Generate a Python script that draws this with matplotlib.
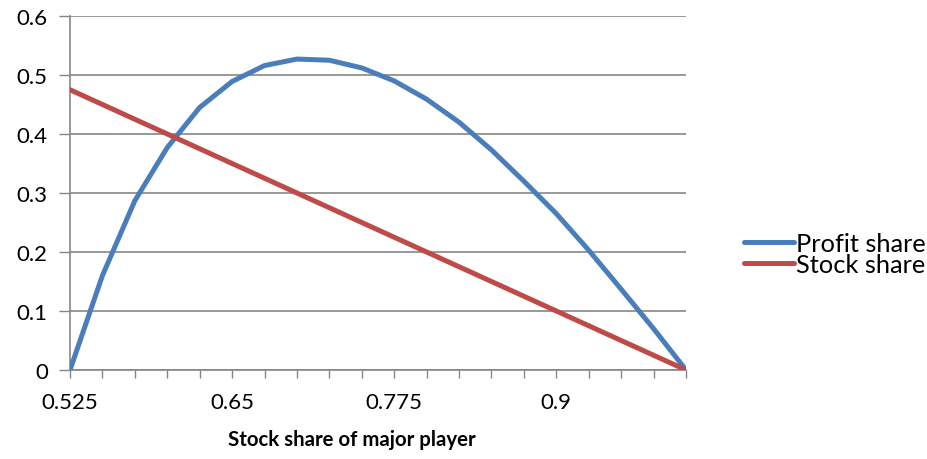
import matplotlib
matplotlib.use('Agg')
import matplotlib.pyplot as plt
from matplotlib.ticker import FixedLocator

# stock share of the major player (category axis)
stock = [0.525, 0.55, 0.575, 0.6, 0.625, 0.65, 0.675, 0.7, 0.725, 0.75,
         0.775, 0.8, 0.825, 0.85, 0.875, 0.9, 0.925, 0.95, 0.975, 1.0]
profit_share = [0.0, 0.160, 0.287, 0.377, 0.445, 0.489, 0.516, 0.527, 0.525, 0.512,
                0.490, 0.459, 0.420, 0.373, 0.320, 0.265, 0.203, 0.137, 0.070, 0.0]
stock_share = [0.475, 0.45, 0.425, 0.4, 0.375, 0.35, 0.325, 0.3, 0.275, 0.25,
               0.225, 0.2, 0.175, 0.15, 0.125, 0.1, 0.075, 0.05, 0.025, 0.0]
xlabels = ['0.525', '0.65', '0.775', '0.9']
ylabels = ['0', '0.1', '0.2', '0.3', '0.4', '0.5', '0.6']

plt.rcParams['font.family'] = ['Lato', 'DejaVu Sans']
grey = '#868686'

fig = plt.figure(figsize=(9.28, 4.6), dpi=100)
ax = fig.add_axes([70/928, 1-371/460, 616/928, 354/460])

ax.plot(stock, profit_share, color='#4A7EBB', lw=3.6, label='Profit share',
        solid_capstyle='round', solid_joinstyle='round', zorder=3)
ax.plot(stock, stock_share, color='#BE4B48', lw=3.6, label='Stock share',
        solid_capstyle='round', solid_joinstyle='round', zorder=3)

ax.set_xlim(stock[0], stock[-1])
ax.set_ylim(0, 0.6)

ax.xaxis.set_major_locator(FixedLocator([float(v) for v in xlabels]))
ax.set_xticklabels(xlabels)
ax.xaxis.set_minor_locator(FixedLocator(stock))
ax.set_yticks([float(v) for v in ylabels])
ax.set_yticklabels(ylabels)

ax.tick_params(axis='x', which='both', direction='out', length=6, width=1,
               color=grey, labelsize=16, pad=10)
ax.tick_params(axis='y', direction='out', length=8, width=1, color=grey,
               labelsize=16, pad=8)

ax.grid(axis='y', color=grey, lw=1.2)
ax.set_axisbelow(True)
for side in ['top', 'right']:
    ax.spines[side].set_visible(False)
for side in ['left', 'bottom']:
    ax.spines[side].set_color(grey)
    ax.spines[side].set_linewidth(1.2)

# axis title sits a bit left of the plot-area centre
ax.set_xlabel('Stock share of major player', fontsize=14.7, fontweight='bold')
ax.xaxis.set_label_coords((352 - 70) / 616, -(440 - 371) / 354)
ax.xaxis.label.set_va('center')

fig.legend(loc='center left', bbox_to_anchor=(744/928, 1-255/460), frameon=False,
           fontsize=18.3, handlelength=1.95, handletextpad=0.1, labelspacing=-0.07,
           borderaxespad=0, borderpad=0)

fig.savefig('out.png', dpi=100)
